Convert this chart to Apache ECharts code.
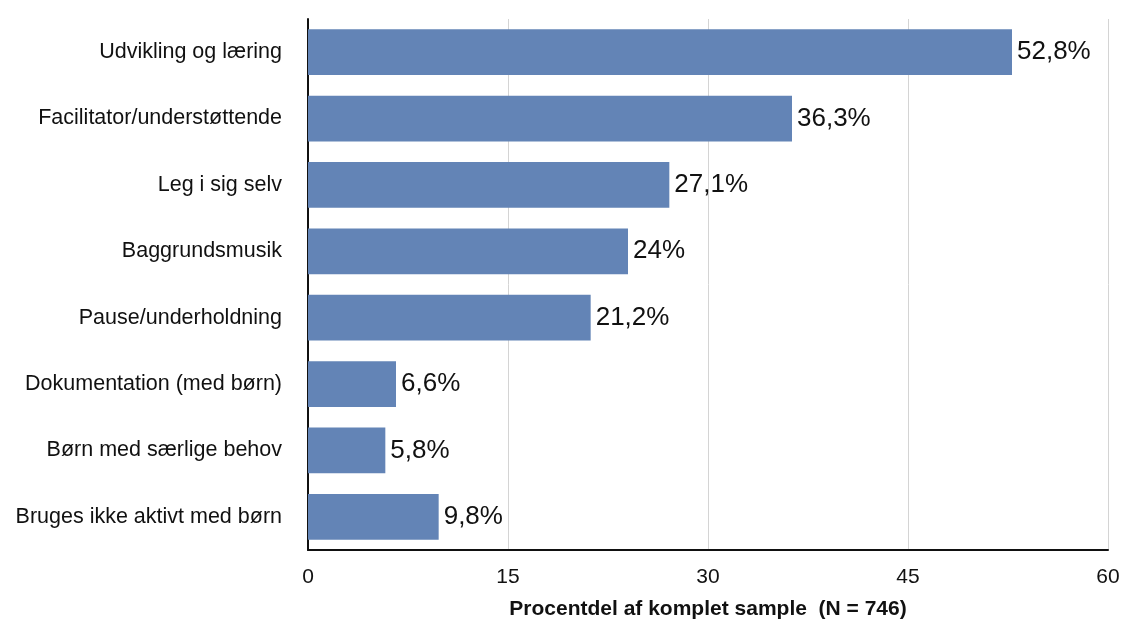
<!DOCTYPE html>
<html><head><meta charset="utf-8">
<script src="https://cdn.jsdelivr.net/npm/echarts@6/dist/echarts.min.js"></script>
<style>html,body{margin:0;padding:0;background:#fff}#c{width:1121px;height:622px}</style>
</head><body><div id="c"></div>
<script>
const categories = ["Udvikling og læring","Facilitator/understøttende","Leg i sig selv","Baggrundsmusik","Pause/underholdning","Dokumentation (med børn)","Børn med særlige behov","Bruges ikke aktivt med børn"];
const values = [52.8, 36.3, 27.1, 24, 21.2, 6.6, 5.8, 9.8];
const xTicks = [0, 15, 30, 45, 60];
const axisTitle = "Procentdel af komplet sample  (N = 746)";

const F = 'Liberation Sans, Arial, Helvetica, sans-serif';
const chart = echarts.init(document.getElementById('c'), null, {renderer:'canvas'});
chart.setOption({
  animation:false,
  backgroundColor:'#fff',
  grid:{left:308, right:13, top:19, bottom:72, containLabel:false, outerBoundsMode:'none'},
  xAxis:{type:'value', min:xTicks[0], max:xTicks[xTicks.length-1], interval:15,
    axisLine:{show:true, lineStyle:{color:'#111', width:2}},
    axisTick:{show:false},
    axisLabel:{color:'#111', fontSize:21, fontFamily:F, margin:17},
    splitLine:{show:true, lineStyle:{color:'#d4d4d4', width:1}},
    name:axisTitle, nameLocation:'middle', nameGap:49,
    nameTextStyle:{color:'#111', fontSize:21, fontWeight:'bold', fontFamily:F}
  },
  yAxis:{type:'category', data:categories, inverse:true,
    axisLine:{show:true, lineStyle:{color:'#111', width:2}},
    axisTick:{show:false},
    axisLabel:{color:'#111', fontSize:21.5, fontFamily:F, margin:26}
  },
  series:[{type:'bar', data:values, barCategoryGap:'31%',
    itemStyle:{color:'#6384b6'},
    label:{show:true, position:'right', distance:5, color:'#111', fontSize:26, fontFamily:F,
      formatter:p=>String(p.value).replace('.',',')+'%'}
  }]
});
</script></body></html>
